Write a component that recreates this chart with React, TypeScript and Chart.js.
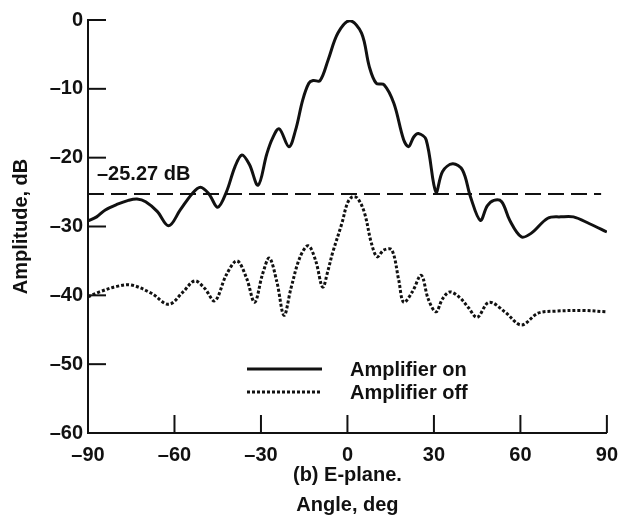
import React, { useEffect, useRef } from "react";
import { Chart, registerables } from "chart.js";

Chart.register(...registerables);

// Amplifier on (solid) — angle (deg) / amplitude (dB)
const onAngles = [-90, -87, -84, -80, -76, -73, -70, -66, -62, -58, -54, -51, -48, -45, -42, -39, -36.6, -34, -31, -28, -26, -23.7, -20.3, -18, -15.5, -13.4, -11.9, -9.5, -6.7, -3.3, 0.8, 4.9, 7.6, 10, 12.7, 16.1, 19.5, 21.2, 23, 24.6, 27.3, 30.7, 33, 36.5, 39.9, 42.7, 46.1, 48.5, 50.8, 53.5, 56.3, 60.3, 63.7, 69.5, 74, 78.4, 84, 90];
const onValues = [-29.2, -28.6, -27.6, -26.8, -26.2, -26.0, -26.4, -27.8, -29.9, -27.6, -25.3, -24.3, -25.3, -27.2, -25.0, -21.3, -19.6, -21.0, -24.0, -19.5, -17.2, -15.8, -18.4, -16.0, -11.6, -9.2, -8.8, -8.8, -5.8, -1.9, -0.1, -1.9, -6.8, -9.2, -9.4, -12.1, -17.4, -18.4, -17.0, -16.5, -17.4, -25.0, -22.0, -20.9, -21.8, -25.7, -29.1, -27.0, -26.2, -26.4, -29.1, -31.5, -31.0, -28.8, -28.6, -28.6, -29.6, -30.8];

// Amplifier off (dotted)
const offAngles = [-90, -86, -80, -75, -68, -62, -57, -53, -49.5, -46, -42, -38.3, -35, -32.2, -29.5, -27.1, -24.5, -22, -19.6, -16.5, -13.6, -11, -8.6, -6.7, -5.2, -1.9, 0, 1.7, 3.5, 5.9, 8.3, 10.3, 12.7, 15.4, 17.8, 19.5, 22.5, 25.6, 28, 30.7, 33, 35.5, 38.9, 42, 45, 49.1, 54.6, 60.3, 66.1, 72, 81.8, 90];
const offValues = [-40.2, -39.5, -38.7, -38.5, -39.7, -41.3, -39.5, -37.9, -39.0, -40.8, -37.0, -35.0, -37.5, -41.0, -37.0, -34.6, -38.0, -42.9, -39.0, -34.5, -32.8, -35.0, -38.8, -36.3, -33.9, -29.5, -26.6, -25.7, -25.9, -28.0, -32.4, -34.4, -33.4, -33.4, -37.8, -41.0, -39.5, -37.1, -40.5, -42.4, -40.5, -39.5, -40.3, -41.8, -43.2, -41.0, -42.4, -44.3, -42.6, -42.3, -42.2, -42.4];

const referenceLevel = -25.27;
const referenceAngles = [-90, 88];
const referenceLabel = "\u201325.27 dB";

const xTicks = [-90, -60, -30, 0, 30, 60, 90];
const yTicks = [-60, -50, -40, -30, -20, -10, 0];

const seriesNames = ["Amplifier on", "Amplifier off"];
const xTitle = ["(b) E-plane.", "Angle, deg"];
const yTitle = "Amplitude, dB";

const INK = "#111111";
const FONT = "'Liberation Sans', Arial, sans-serif";

const fmt = (v: number) => (v < 0 ? "\u2013" + Math.abs(v) : String(v));

const annotPlugin = {
  id: "annot",
  afterDraw(chart: any) {
    const ctx = chart.ctx;
    const xs = chart.scales.x;
    const ys = chart.scales.y;
    const area = chart.chartArea;
    ctx.save();
    ctx.strokeStyle = INK;
    ctx.lineWidth = 2;
    // inward ticks on y axis
    yTicks.forEach((v) => {
      if (v === -60) return;
      const py = ys.getPixelForValue(v);
      ctx.beginPath();
      ctx.moveTo(area.left, py);
      ctx.lineTo(area.left + 18, py);
      ctx.stroke();
    });
    // inward ticks on x axis
    xTicks.forEach((v) => {
      if (v === -90) return;
      const px = xs.getPixelForValue(v);
      ctx.beginPath();
      ctx.moveTo(px, area.bottom);
      ctx.lineTo(px, area.bottom - 18);
      ctx.stroke();
    });
    // reference label
    ctx.fillStyle = INK;
    ctx.font = `bold 20px ${FONT}`;
    ctx.textBaseline = "alphabetic";
    ctx.textAlign = "left";
    ctx.fillText(referenceLabel, area.left + 9, ys.getPixelForValue(referenceLevel) - 14);
    // legend
    const lx0 = area.left + 159;
    const lx1 = area.left + 234;
    const tx = area.left + 262;
    const ly1 = area.top + 349;
    const ly2 = area.top + 372;
    ctx.lineWidth = 3;
    ctx.beginPath();
    ctx.moveTo(lx0, ly1);
    ctx.lineTo(lx1, ly1);
    ctx.stroke();
    ctx.setLineDash([3, 2]);
    ctx.beginPath();
    ctx.moveTo(lx0, ly2);
    ctx.lineTo(lx1, ly2);
    ctx.stroke();
    ctx.setLineDash([]);
    ctx.textBaseline = "middle";
    ctx.fillText(seriesNames[0], tx, ly1 + 1);
    ctx.fillText(seriesNames[1], tx, ly2 + 1);
    ctx.restore();
  },
};

export default function App() {
  const ref = useRef<HTMLCanvasElement | null>(null);
  useEffect(() => {
    if (!ref.current) return;
    const chart = new Chart(ref.current, {
      type: "line",
      data: {
        datasets: [
          {
            label: seriesNames[0],
            data: onAngles.map((a, i) => ({ x: a, y: onValues[i] })),
            borderColor: INK,
            borderWidth: 3,
            pointRadius: 0,
            tension: 0.35,
            fill: false,
          },
          {
            label: seriesNames[1],
            data: offAngles.map((a, i) => ({ x: a, y: offValues[i] })),
            borderColor: INK,
            borderWidth: 3,
            borderDash: [3, 2],
            pointRadius: 0,
            tension: 0.35,
            fill: false,
          },
          {
            label: "reference",
            data: referenceAngles.map((a) => ({ x: a, y: referenceLevel })),
            borderColor: INK,
            borderWidth: 2,
            borderDash: [16, 7],
            pointRadius: 0,
            fill: false,
          },
        ],
      },
      options: {
        responsive: false,
        animation: false,
        layout: { padding: { left: 0, top: 20, right: 11, bottom: 0 } },
        plugins: { legend: { display: false }, tooltip: { enabled: false } },
        scales: {
          x: {
            type: "linear",
            min: -90,
            max: 90,
            afterBuildTicks: (s: any) => {
              s.ticks = xTicks.map((v) => ({ value: v }));
            },
            afterFit: (s: any) => {
              s.height = 92;
            },
            grid: { display: true, drawOnChartArea: false, drawTicks: false },
            border: { display: true, color: INK, width: 2 },
            ticks: {
              color: INK,
              padding: 10,
              maxRotation: 0,
              font: { family: FONT, size: 20, weight: "bold" },
              callback: (v: any) => fmt(Number(v)),
            },
            title: {
              display: true,
              text: xTitle,
              color: INK,
              padding: { top: 0, bottom: 5 },
              font: { family: FONT, size: 20, weight: "bold", lineHeight: 1.5 },
            },
          },
          y: {
            type: "linear",
            min: -60,
            max: 0,
            afterBuildTicks: (s: any) => {
              s.ticks = yTicks.map((v) => ({ value: v }));
            },
            afterFit: (s: any) => {
              s.width = 88;
            },
            grid: { display: true, drawOnChartArea: false, drawTicks: false },
            border: { display: true, color: INK, width: 2 },
            ticks: {
              color: INK,
              padding: 5,
              font: { family: FONT, size: 20, weight: "bold" },
              callback: (v: any) => fmt(Number(v)),
            },
            title: {
              display: true,
              text: yTitle,
              color: INK,
              padding: { top: 9, bottom: 0 },
              font: { family: FONT, size: 20, weight: "bold" },
            },
          },
        },
      },
      plugins: [annotPlugin],
    });
    return () => chart.destroy();
  }, []);
  return (
    <div style={{ position: "absolute", left: 0, top: 0, width: 628, height: 525, background: "#fff" }}>
      <canvas ref={ref} width={628} height={525} style={{ display: "block" }} />
    </div>
  );
}
